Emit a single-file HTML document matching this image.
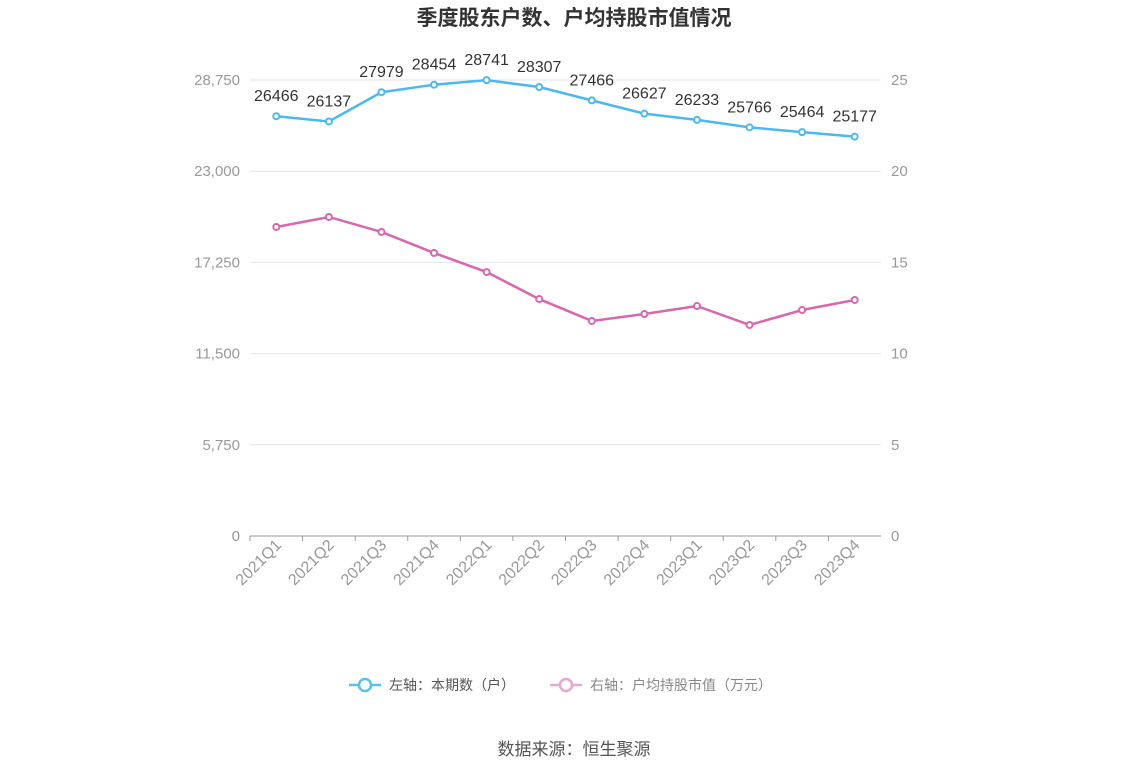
<!DOCTYPE html>
<html><head><meta charset="utf-8"><style>
body{margin:0;background:#fff;font-family:"Liberation Sans","Noto Sans CJK SC",sans-serif;}
</style></head><body>
<svg width="1148" height="776" xmlns="http://www.w3.org/2000/svg" font-family="Liberation Sans, Noto Sans CJK SC, sans-serif">
<text x="574" y="25" text-anchor="middle" font-size="21" font-weight="bold" fill="#333">季度股东户数、户均持股市值情况</text>
<g id="grid"></g><g id="axes"></g><g id="series"></g>
<g>
<g>
<line x1="349" y1="685" x2="381" y2="685" stroke="#5bc0f0" stroke-width="2.5"/>
<circle cx="365" cy="685" r="6" fill="#fff" stroke="#5bc0f0" stroke-width="2.5"/>
<text x="389" y="690" font-size="14" fill="#555">左轴：本期数（户）</text></g>
<g>
<line x1="550" y1="685" x2="582" y2="685" stroke="#e6a8d0" stroke-width="2.5"/>
<circle cx="566" cy="685" r="6" fill="#fff" stroke="#e6a8d0" stroke-width="2.5"/>
<text x="590" y="690" font-size="14" fill="#888">右轴：户均持股市值（万元）</text></g>
</g>
<text x="574" y="755" text-anchor="middle" font-size="17" fill="#555">数据来源：恒生聚源</text>
</svg>
<script>
const categories=["2021Q1","2021Q2","2021Q3","2021Q4","2022Q1","2022Q2","2022Q3","2022Q4","2023Q1","2023Q2","2023Q3","2023Q4"];
const holders=[26466,26137,27979,28454,28741,28307,27466,26627,26233,25766,25464,25177];
const avgValue=[16.94,17.49,16.67,15.52,14.47,12.99,11.79,12.17,12.61,11.57,12.39,12.94];
const leftTicks=[0,5750,11500,17250,23000,28750];
const rightTicks=[0,5,10,15,20,25];
const NS="http://www.w3.org/2000/svg";
const L=250,R=881,T=80,B=536;
const x=i=>L+(R-L)/categories.length*(i+0.5);
const yL=v=>B-(B-T)*v/28750;
const yR=v=>B-(B-T)*v/25;
function mk(tag,at,parent,txt){const e=document.createElementNS(NS,tag);for(const k in at)e.setAttribute(k,at[k]);if(txt!==undefined)e.textContent=txt;document.getElementById(parent).appendChild(e);return e;}
leftTicks.forEach((t,i)=>{
 const y=yL(t);
 if(i>0){const g=mk('line',{x1:L,x2:R,y1:y,y2:y,stroke:'#e3e6ee','stroke-width':1},'grid');
 
 }
 const a=mk('text',{x:240,y:y+5,'text-anchor':'end','font-size':15,fill:'#999'},'axes',t.toLocaleString('en-US'));
 
 
});
rightTicks.forEach(t=>{
 const b=mk('text',{x:891,y:yR(t)+5,'font-size':15,fill:'#999'},'axes',String(t));
 
 
});
const ax=mk('line',{x1:L,x2:R,y1:B,y2:B,stroke:'#999','stroke-width':1},'axes');


categories.forEach((c,i)=>{
 const tk=mk('line',{x1:L+(R-L)/12*i,x2:L+(R-L)/12*i,y1:B,y2:B+5,stroke:'#999'},'axes');
 
 
 const t=mk('text',{x:x(i)+6,y:B+10,'text-anchor':'end','font-size':16,fill:'#999',transform:`rotate(-45 ${x(i)+6} ${B+10})`},'axes',c);
 
 
});
function series(vals,fy,color,name,labels){
 const p=mk('polyline',{points:vals.map((v,i)=>x(i)+','+fy(v)).join(' '),fill:'none',stroke:color,'stroke-width':2.5},'series');
 
 
 vals.forEach((v,i)=>{
  const c=mk('circle',{cx:x(i),cy:fy(v),r:3,fill:'#fff',stroke:color,'stroke-width':2},'series');
  
  
  if(labels){const t=mk('text',{x:x(i),y:fy(v)-15,'text-anchor':'middle','font-size':16,fill:'#333'},'series',String(v));
  
  }
 });
}
series(avgValue,yR,'#d966ae','avg-value',false);
series(holders,yL,'#4cb8ee','holders',true);
</script>
</body></html>
